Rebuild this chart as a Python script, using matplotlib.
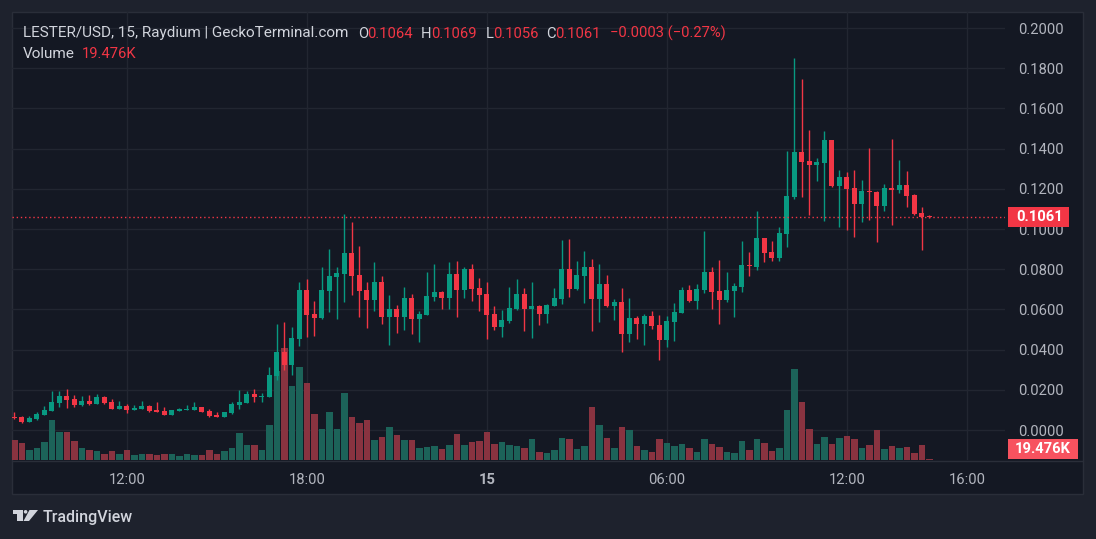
import numpy as np
import pandas as pd
import matplotlib
matplotlib.use("Agg")
import matplotlib.pyplot as plt
import matplotlib.dates as mdates
import matplotlib.transforms as mtransforms
from matplotlib.patches import Rectangle, Polygon, Circle

plt.rcParams['font.family'] = ['Roboto', 'DejaVu Sans']

# ---------------- data ----------------
start_time = "2024-11-14 08:15"
n_bars = 123
times = pd.date_range(start_time, periods=n_bars, freq="15min")

opens = [0.0064, 0.0065, 0.0042, 0.0055, 0.0075, 0.0097, 0.0135, 0.0170, 0.0155, 0.0125,
         0.0145, 0.0130, 0.0165, 0.0140, 0.0105, 0.0120, 0.0100, 0.0105, 0.0120, 0.0100,
         0.0095, 0.0075, 0.0095, 0.0102, 0.0100, 0.0115, 0.0095, 0.0075, 0.0065, 0.0085,
         0.0125, 0.0135, 0.0180, 0.0165, 0.0165, 0.0269, 0.0389, 0.0324, 0.0453, 0.0697,
         0.0578, 0.0558, 0.0692, 0.0762, 0.0777, 0.0881, 0.0772, 0.0697, 0.0647, 0.0737,
         0.0563, 0.0602, 0.0563, 0.0657, 0.0553, 0.0572, 0.0662, 0.0687, 0.0657, 0.0777,
         0.0697, 0.0801, 0.0707, 0.0677, 0.0578, 0.0513, 0.0543, 0.0602, 0.0677, 0.0602,
         0.0617, 0.0578, 0.0617, 0.0652, 0.0801, 0.0702, 0.0767, 0.0811, 0.0652, 0.0727,
         0.0617, 0.0637, 0.0478, 0.0558, 0.0528, 0.0568, 0.0523, 0.0448, 0.0538, 0.0583,
         0.0697, 0.0642, 0.0697, 0.0787, 0.0692, 0.0647, 0.0692, 0.0712, 0.0821, 0.0811,
         0.0956, 0.0886, 0.0856, 0.0976, 0.1160, 0.1384, 0.1339, 0.1319, 0.1329, 0.1443,
         0.1214, 0.1259, 0.1204, 0.1125, 0.1190, 0.1185, 0.1115, 0.1204, 0.1195, 0.1219,
         0.1170, 0.1080, 0.1064]
highs = [0.0090, 0.0070, 0.0070, 0.0090, 0.0120, 0.0195, 0.0195, 0.0204, 0.0175, 0.0170,
         0.0175, 0.0180, 0.0170, 0.0155, 0.0145, 0.0130, 0.0125, 0.0145, 0.0125, 0.0140,
         0.0115, 0.0100, 0.0110, 0.0125, 0.0140, 0.0115, 0.0105, 0.0090, 0.0090, 0.0140,
         0.0199, 0.0195, 0.0204, 0.0185, 0.0314, 0.0528, 0.0538, 0.0513, 0.0737, 0.0752,
         0.0642, 0.0812, 0.0901, 0.0812, 0.1075, 0.1035, 0.0916, 0.0737, 0.0836, 0.0767,
         0.0672, 0.0622, 0.0712, 0.0677, 0.0592, 0.0787, 0.0826, 0.0692, 0.0836, 0.0841,
         0.0812, 0.0826, 0.0757, 0.0737, 0.0617, 0.0597, 0.0712, 0.0752, 0.0707, 0.0737,
         0.0622, 0.0627, 0.0707, 0.0946, 0.0951, 0.0841, 0.0891, 0.0851, 0.0826, 0.0772,
         0.0652, 0.0707, 0.0657, 0.0568, 0.0578, 0.0592, 0.0572, 0.0568, 0.0632, 0.0712,
         0.0722, 0.0727, 0.0991, 0.0812, 0.0846, 0.0787, 0.0732, 0.0941, 0.0886, 0.1090,
         0.0956, 0.0941, 0.1010, 0.1388, 0.1851, 0.1747, 0.1493, 0.1354, 0.1488, 0.1443,
         0.1294, 0.1284, 0.1294, 0.1244, 0.1404, 0.1190, 0.1224, 0.1448, 0.1344, 0.1289,
         0.1174, 0.1110, 0.1069]
lows = [0.0057, 0.0035, 0.0040, 0.0050, 0.0075, 0.0097, 0.0115, 0.0110, 0.0115, 0.0120,
        0.0125, 0.0130, 0.0130, 0.0105, 0.0105, 0.0085, 0.0100, 0.0105, 0.0090, 0.0090,
        0.0075, 0.0075, 0.0095, 0.0102, 0.0100, 0.0090, 0.0065, 0.0065, 0.0065, 0.0080,
        0.0105, 0.0135, 0.0140, 0.0140, 0.0165, 0.0249, 0.0299, 0.0274, 0.0418, 0.0463,
        0.0468, 0.0553, 0.0587, 0.0553, 0.0637, 0.0672, 0.0563, 0.0508, 0.0592, 0.0528,
        0.0424, 0.0483, 0.0498, 0.0478, 0.0438, 0.0572, 0.0642, 0.0602, 0.0602, 0.0563,
        0.0657, 0.0642, 0.0592, 0.0453, 0.0498, 0.0463, 0.0533, 0.0597, 0.0493, 0.0458,
        0.0523, 0.0533, 0.0617, 0.0627, 0.0662, 0.0697, 0.0632, 0.0493, 0.0538, 0.0612,
        0.0548, 0.0389, 0.0438, 0.0453, 0.0424, 0.0503, 0.0349, 0.0413, 0.0443, 0.0583,
        0.0637, 0.0602, 0.0682, 0.0602, 0.0528, 0.0637, 0.0563, 0.0687, 0.0767, 0.0796,
        0.0836, 0.0841, 0.0841, 0.0911, 0.1150, 0.1160, 0.1070, 0.1239, 0.1040, 0.1209,
        0.1010, 0.0996, 0.0961, 0.1035, 0.1045, 0.0936, 0.1090, 0.1020, 0.1180, 0.1110,
        0.1070, 0.0896, 0.1056]
closes = [0.0059, 0.0040, 0.0060, 0.0080, 0.0100, 0.0140, 0.0170, 0.0150, 0.0125, 0.0145,
          0.0130, 0.0165, 0.0135, 0.0105, 0.0120, 0.0100, 0.0110, 0.0120, 0.0095, 0.0090,
          0.0075, 0.0100, 0.0105, 0.0105, 0.0115, 0.0090, 0.0070, 0.0065, 0.0090, 0.0130,
          0.0140, 0.0180, 0.0165, 0.0170, 0.0274, 0.0389, 0.0324, 0.0458, 0.0697, 0.0572,
          0.0558, 0.0697, 0.0767, 0.0782, 0.0881, 0.0767, 0.0692, 0.0647, 0.0737, 0.0563,
          0.0602, 0.0563, 0.0657, 0.0553, 0.0578, 0.0667, 0.0687, 0.0657, 0.0777, 0.0697,
          0.0801, 0.0702, 0.0672, 0.0572, 0.0513, 0.0548, 0.0607, 0.0677, 0.0602, 0.0617,
          0.0578, 0.0622, 0.0657, 0.0801, 0.0702, 0.0772, 0.0811, 0.0652, 0.0727, 0.0617,
          0.0637, 0.0478, 0.0558, 0.0528, 0.0568, 0.0518, 0.0448, 0.0543, 0.0588, 0.0697,
          0.0642, 0.0702, 0.0787, 0.0687, 0.0647, 0.0697, 0.0717, 0.0821, 0.0816, 0.0956,
          0.0881, 0.0856, 0.0981, 0.1165, 0.1384, 0.1334, 0.1319, 0.1334, 0.1443, 0.1214,
          0.1259, 0.1199, 0.1125, 0.1190, 0.1185, 0.1115, 0.1204, 0.1195, 0.1219, 0.1165,
          0.1075, 0.1060, 0.1061]
volumes_k = [390, 332, 195, 234, 351, 780, 546, 546, 371, 234,
             195, 176, 117, 176, 117, 195, 98, 117, 117, 98,
             117, 117, 78, 117, 98, 98, 195, 117, 176, 234,
             527, 293, 293, 195, 683, 1736, 2184, 1443, 1814, 1502,
             897, 605, 936, 605, 1307, 839, 722, 780, 390, 449,
             644, 488, 390, 390, 234, 254, 273, 215, 293, 507,
             293, 351, 371, 546, 312, 351, 293, 273, 234, 410,
             156, 137, 195, 429, 410, 215, 273, 1034, 683, 429,
             234, 644, 585, 273, 195, 156, 410, 332, 273, 312,
             234, 156, 410, 312, 254, 156, 137, 371, 195, 410,
             332, 176, 234, 975, 1775, 1131, 605, 312, 449, 312,
             429, 468, 410, 234, 293, 585, 215, 273, 234, 254,
             137, 293, 19.476]

price_ticks = [0.0, 0.02, 0.04, 0.06, 0.08, 0.10, 0.12, 0.14, 0.16, 0.18, 0.20]
time_ticks = ["2024-11-14 12:00", "2024-11-14 18:00", "2024-11-15 00:00",
              "2024-11-15 06:00", "2024-11-15 12:00", "2024-11-15 16:00"]
time_tick_labels = ["12:00", "18:00", "15", "06:00", "12:00", "16:00"]

symbol_text = "LESTER/USD, 15, Raydium | GeckoTerminal.com"
change_text = "\u22120.0003 (\u22120.27%)"
volume_text = "19.476K"

# ---------------- style ----------------
W, H = 1096, 539
BG_OUT = "#1e222d"
BG_IN = "#141823"
BORDER = "#2a2e39"
GRID = "#222631"
UP = "#089981"
DOWN = "#f23645"
UP_VOL = "#1c6359"
DOWN_VOL = "#893340"
TXT = "#d1d4dc"
AX_TXT = "#b2b5be"
FS = 10.6

fig = plt.figure(figsize=(W / 100, H / 100), dpi=100, facecolor=BG_OUT)

def px(x, y):
    return x / W, 1 - y / H

# chart frame (behind axes)
fig.patches.append(Rectangle(px(12, 494), 1071 / W, 482 / H, transform=fig.transFigure,
                             facecolor=BG_IN, edgecolor=BORDER, lw=1, zorder=-3))
fig.lines.append(plt.Line2D([12 / W, 1083 / W], [1 - 460.5 / H] * 2, transform=fig.transFigure,
                            color=BORDER, lw=1, zorder=-2))

ax_left, ax_top, ax_right, ax_bot = 12, 12, 1005, 460
ax = fig.add_axes([ax_left / W, 1 - ax_bot / H, (ax_right - ax_left) / W, (ax_bot - ax_top) / H])
ax.set_facecolor("none")
ax.patch.set_visible(False)
for s in ax.spines.values():
    s.set_visible(False)

x = mdates.date2num(times)
dt = 15 / (24 * 60)
O = np.array(opens); Hh = np.array(highs); L = np.array(lows); C = np.array(closes)
V = np.array(volumes_k, dtype=float)
up = C >= O
col = np.where(up, UP, DOWN)
vcol = np.where(up, UP_VOL, DOWN_VOL)

ax.set_xlim(x[0] - 0.307 * dt, x[0] + 132.09 * dt)
ax.set_ylim(-0.01488, 0.2080)

# volume overlay: max volume reaches 25% of pane height
vol_top = V.max() / 0.25
vol_trans = mtransforms.blended_transform_factory(
    ax.transData, mtransforms.Affine2D().scale(1, 1 / vol_top) + ax.transAxes)
for xi, vi, ci in zip(x, V, vcol):
    ax.add_patch(Rectangle((xi - 0.44 * dt, 0), 0.88 * dt, vi, transform=vol_trans,
                           facecolor=ci, edgecolor="none", zorder=1))

# candles
ax.vlines(x, L, Hh, colors=col, lw=1, zorder=2)
body_h = np.maximum(np.abs(C - O), 0.0005)
ax.bar(x, body_h, bottom=np.minimum(O, C), width=0.70 * dt, color=col, zorder=3, linewidth=0)

# grid and ticks
ax.set_yticks(price_ticks)
ax.set_yticklabels([f"{v:.4f}" for v in price_ticks])
ax.yaxis.tick_right()
tt = mdates.date2num(pd.to_datetime(time_ticks))
ax.set_xticks(tt)
ax.set_xticklabels(time_tick_labels)
ax.xaxis.get_ticklabels()[2].set_fontweight("bold")
ax.tick_params(axis="y", length=0, pad=9.5, labelsize=FS, labelcolor=AX_TXT)
ax.tick_params(axis="x", length=0, pad=9.5, labelsize=FS, labelcolor=AX_TXT)
ax.grid(True, color=GRID, lw=1, zorder=0)
ax.set_axisbelow(True)
ax.set_xlim(x[0] - 0.307 * dt, x[0] + 132.09 * dt)
ax.set_ylim(-0.01488, 0.2080)

# last price line
last = C[-1]
ax.axhline(last, color=DOWN, lw=1, ls=(0, (1, 2)), zorder=4)

# price label box
y_last = ax.transData.transform((x[0], last))[1]
fig.patches.append(Rectangle((1008, y_last - 10), 61, 20, transform=None,
                             facecolor=DOWN, edgecolor="none", zorder=5))
fig.text(1040 / W, y_last / H, f"{last:.4f}", color="white", fontsize=FS,
         fontweight="bold", ha="center", va="center", zorder=6)

# volume label box (clamped to pane bottom)
y_vol = vol_trans.transform((x[-1], V[-1]))[1]
y_bottom = H - ax_bot
y_vc = max(y_vol, y_bottom + 11)
fig.patches.append(Rectangle((1008, y_vc - 10), 70, 20, transform=None,
                             facecolor="#f7525f", edgecolor="none", zorder=5))
fig.text(1043 / W, y_vc / H, volume_text, color="white", fontsize=FS,
         fontweight="bold", ha="center", va="center", zorder=6)

# header legend
def htext(xp, yp, s, c, fs=FS, **kw):
    fig.text(xp / W, 1 - yp / H, s, color=c, fontsize=fs, ha="left", va="center", **kw)

htext(23, 33.5, symbol_text, TXT, fs=11.0)
htext(358, 33.5, "O", TXT); htext(367, 33.5, f"{opens[-1]:.4f}", DOWN)
htext(421, 33.5, "H", TXT); htext(431, 33.5, f"{highs[-1]:.4f}", DOWN)
htext(486, 33.5, "L", TXT); htext(493, 33.5, f"{lows[-1]:.4f}", DOWN)
htext(546, 33.5, "C", TXT); htext(555, 33.5, f"{closes[-1]:.4f}", DOWN)
htext(610, 33.5, change_text, DOWN)
htext(23, 54, "Volume", TXT, fs=11.0)
htext(82, 54, volume_text, DOWN)

# TradingView logo
def P(pts):
    return [(a, H - b) for a, b in pts]
logo_c = "#d1d4dc"
fig.patches.append(Polygon(P([(12.7, 510), (22.7, 510), (22.7, 521), (17.3, 521), (17.3, 513.5), (12.7, 513.5)]),
                           closed=True, transform=None, facecolor=logo_c, edgecolor="none"))
fig.patches.append(Circle((25.6, H - 511.8), 1.8, transform=None, facecolor=logo_c, edgecolor="none"))
fig.patches.append(Polygon(P([(29.5, 510), (38, 510), (29, 521), (23.5, 521)]),
                           closed=True, transform=None, facecolor=logo_c, edgecolor="none"))
fig.text(42.5 / W, 1 - 517.5 / H, "TradingView", color=logo_c, fontsize=11.5,
         fontweight="medium", ha="left", va="center")

fig.savefig("out.png", dpi=100, facecolor=BG_OUT)
